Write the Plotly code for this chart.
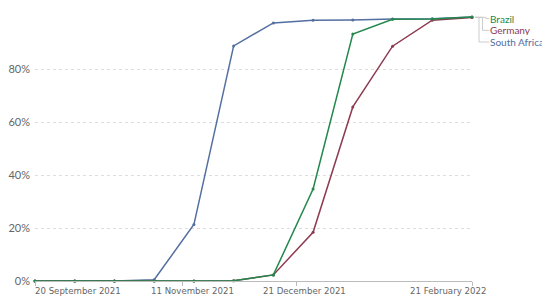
import plotly.graph_objects as go

# two-week periods
dates = ["2021-09-20", "2021-10-04", "2021-10-18", "2021-11-01", "2021-11-15",
         "2021-11-29", "2021-12-13", "2021-12-27", "2022-01-10", "2022-01-24",
         "2022-02-07", "2022-02-21"]

brazil = [0, 0, 0, 0, 0, 0.1, 2.3, 34.7, 93.2, 98.8, 98.9, 99.6]
germany = [0, 0, 0, 0, 0, 0.1, 2.3, 18.4, 65.7, 88.6, 98.4, 99.4]
south_africa = [0, 0, 0, 0.5, 21.3, 88.7, 97.4, 98.4, 98.5, 98.9, 99.0, 99.6]

tick_dates = ["2021-09-20", "2021-11-11", "2021-12-21", "2022-02-21"]
tick_text = ["20 September 2021", "11 November 2021", "21 December 2021", "21 February 2022"]
y_ticks = [0, 20, 40, 60, 80]
y_text = ["0%", "20%", "40%", "60%", "80%"]

names = ["Brazil", "Germany", "South Africa"]
colors = ["#22884c", "#8e3a50", "#536ea0"]

fig = go.Figure()
for name, vals, col in [("South Africa", south_africa, colors[2]),
                        ("Germany", germany, colors[1]),
                        ("Brazil", brazil, colors[0])]:
    fig.add_trace(go.Scatter(x=dates, y=vals, name=name, mode="lines+markers",
                             line=dict(color=col, width=1.5),
                             marker=dict(color=col, size=3),
                             showlegend=False, cliponaxis=False))

# page body has an 8px margin, so the figure is a bit smaller than the window
fig.update_layout(
    width=542, height=292,
    margin=dict(l=27, r=78, t=8, b=19),
    plot_bgcolor="white", paper_bgcolor="white",
    font=dict(family="Lato", size=11, color="#666"),
)
fig.update_xaxes(type="date", range=["2021-09-20", "2022-02-21"],
                 showgrid=False, zeroline=False, showline=True, linecolor="#bbb",
                 ticks="outside", ticklen=4, tickcolor="#bbb",
                 tickvals=tick_dates, showticklabels=False, automargin=False)
fig.update_yaxes(range=[0, 100], tickvals=y_ticks, ticktext=y_text,
                 showgrid=True, gridcolor="#ddd", griddash="dot", zeroline=False,
                 showline=False, ticks="", ticklabelstandoff=4, automargin=False,
                 tickfont=dict(family="Lato", size=11, color="#666"))

# x tick labels, placed like the original (first one left aligned)
anchors = ["left", "center", "center", "center"]
shifts = [-2, 10, 8, -24]
for d, t, a, s in zip(tick_dates, tick_text, anchors, shifts):
    fig.add_annotation(x=d, y=0, xref="x", yref="paper", text=t, showarrow=False,
                       xanchor=a, yanchor="top", xshift=s, yshift=-3,
                       font=dict(family="DejaVu Sans", size=8.6, color="#666"))

# legend labels with connector lines
label_y = [0.99, 0.946, 0.902]
for name, col, ly in zip(names, colors, label_y):
    fig.add_annotation(x=1.04, y=ly, xref="paper", yref="paper", text=name,
                       showarrow=False, xanchor="left", yanchor="middle",
                       height=10, borderpad=0,
                       font=dict(family="Lato", size=10, color=col))
conn_x = [1.032, 1.024, 1.016]
for cx, ly in zip(conn_x, label_y):
    fig.add_shape(type="path", xref="paper", yref="paper",
                  path=f"M 1.007 0.995 L {cx} 0.995 L {cx} {ly} L 1.04 {ly}",
                  line=dict(color="#ccc", width=1))

fig.write_html("out.html")
